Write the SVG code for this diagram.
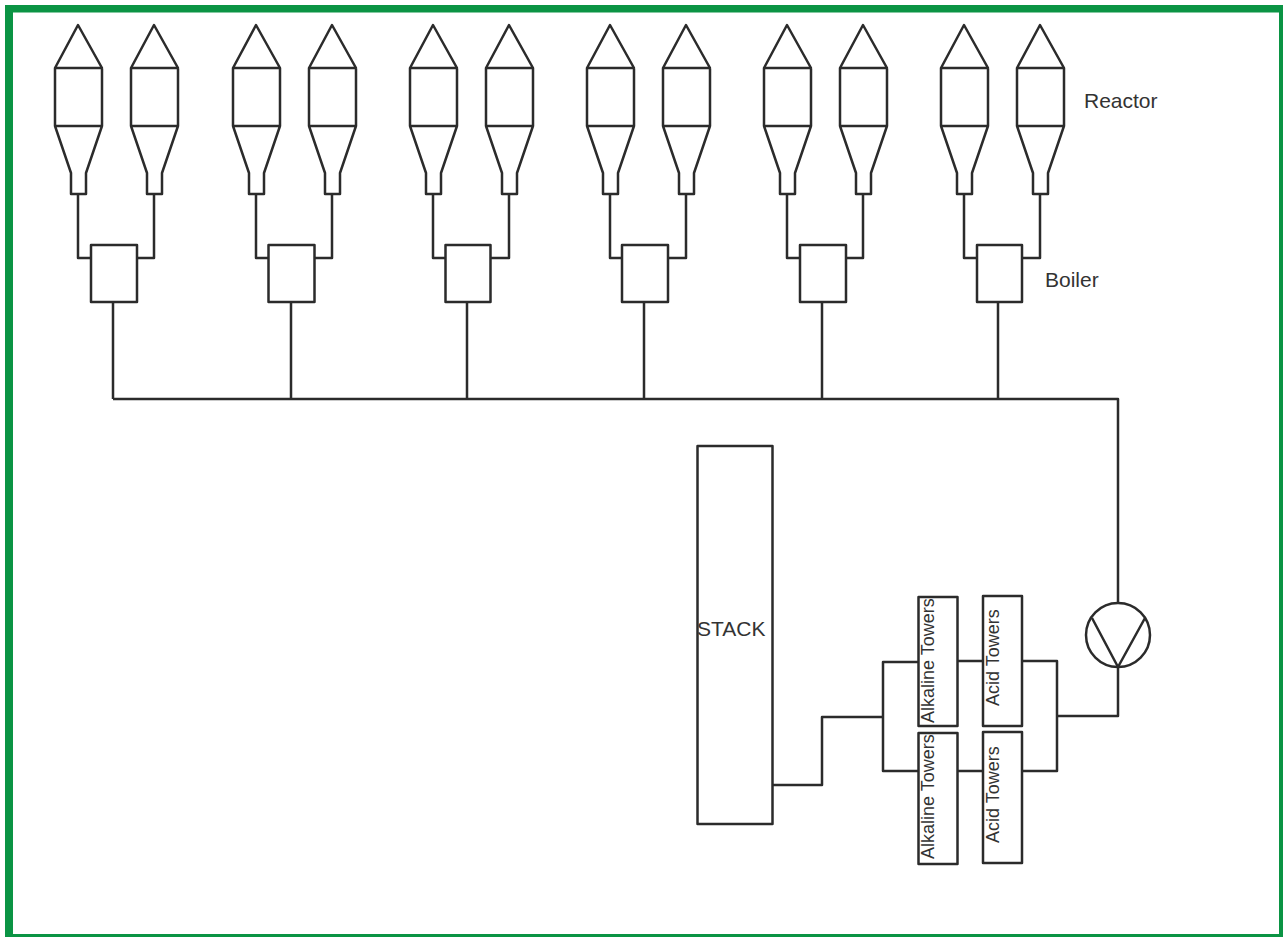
<svg xmlns="http://www.w3.org/2000/svg" xmlns:xlink="http://www.w3.org/1999/xlink" width="1283" height="937" viewBox="0 0 1283 937">
<style>
.s{fill:none;stroke:#2b2b2b;stroke-width:2.500;stroke-linejoin:round}
.b{fill:#fff;stroke:#2b2b2b;stroke-width:2.500;stroke-linejoin:round}
text{font-family:"Liberation Sans",Arial,sans-serif;fill:#333;font-size:21px}
.v{font-size:18px}
</style>
<defs>
<g id="reactor"><path class="s" d="M0 68L23 25L47 68ZM0 68V126H47V68M0 126L16 173V194H31V173L47 126"/></g>
<g id="pair">
<use xlink:href="#reactor"/><use xlink:href="#reactor" x="76"/>
</g>
</defs>
<rect x="0" y="0" width="1283" height="937" fill="#fff"/>
<path d="M5 5H1283V937H5Z M13 12.500V934H1279V12.500Z" fill="#0b9444" fill-rule="evenodd"/>
<g id="connectors">
<path class="s" d="M78 194V258H91M154 194V258H137"/>
<path class="s" d="M256 194V258H268.500M332 194V258H314.500"/>
<path class="s" d="M433 194V258H445.500M509 194V258H490.500"/>
<path class="s" d="M610 194V258H622M686 194V258H668"/>
<path class="s" d="M787 194V258H800M863 194V258H846"/>
<path class="s" d="M964 194V258H977M1040 194V258H1022"/>
<path class="s" d="M113 302V399M291 302V399M467 302V399M644 302V399M822 302V399M998 302V399M113 399H1118V602"/>
<path class="s" d="M1118 667V716H1058M1022 661H1057V771H1022M958 661H983M958 771H983M918 662H883V771H918M883 717H822V785H773"/>
</g>
<g id="unit-1"><use xlink:href="#pair" x="55"/><rect class="b" x="91" y="245" width="46" height="57"/></g>
<g id="unit-2"><use xlink:href="#pair" x="233"/><rect class="b" x="268.500" y="245" width="46" height="57"/></g>
<g id="unit-3"><use xlink:href="#pair" x="410"/><rect class="b" x="445.500" y="245" width="45" height="57"/></g>
<g id="unit-4"><use xlink:href="#pair" x="587"/><rect class="b" x="622" y="245" width="46" height="57"/></g>
<g id="unit-5"><use xlink:href="#pair" x="764"/><rect class="b" x="800" y="245" width="46" height="57"/></g>
<g id="unit-6"><use xlink:href="#pair" x="941"/><rect class="b" x="977" y="245" width="45" height="57"/></g>
<g id="reactor-label"><text x="1084" y="108">Reactor</text></g>
<g id="boiler-label"><text x="1045" y="287">Boiler</text></g>
<g id="stack"><rect class="b" x="697.500" y="446" width="75" height="378"/><text x="697" y="636">STACK</text></g>
<g id="alkaline-1"><rect class="b" x="918.500" y="597" width="39" height="129"/><text class="v" transform="translate(933.500 723) rotate(-90)">Alkaline Towers</text></g>
<g id="alkaline-2"><rect class="b" x="918.500" y="733" width="39" height="131"/><text class="v" transform="translate(934 859) rotate(-90)">Alkaline Towers</text></g>
<g id="acid-1"><rect class="b" x="983" y="596" width="39" height="130"/><text class="v" transform="translate(999 706) rotate(-90)">Acid Towers</text></g>
<g id="acid-2"><rect class="b" x="983" y="732" width="39" height="131"/><text class="v" transform="translate(999 843) rotate(-90)">Acid Towers</text></g>
<g id="pump"><circle class="s" cx="1118" cy="635" r="32"/><path class="s" d="M1092 618L1118 667L1145 618"/></g>
</svg>
